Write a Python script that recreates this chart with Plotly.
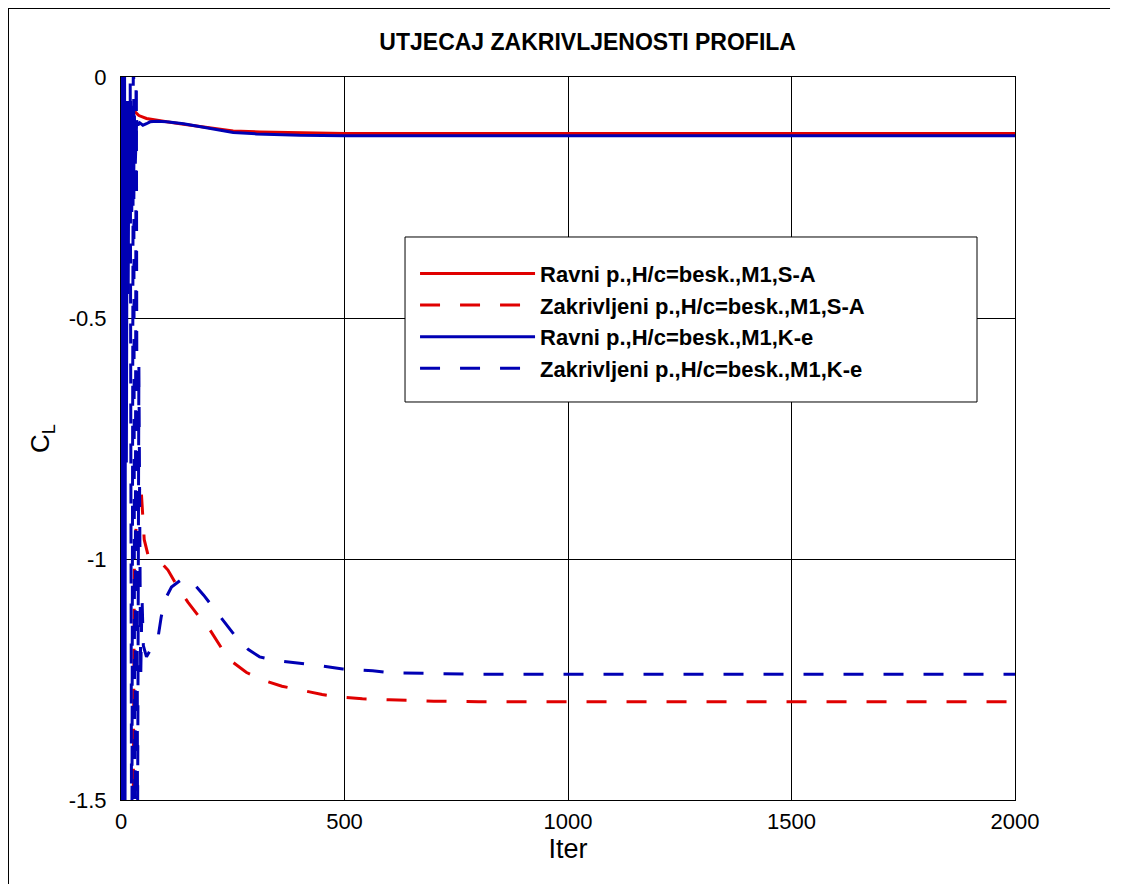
import plotly.graph_objects as go

# iteration / lift coefficient samples
x_ravni_sa = [0, 1, 2, 3, 4, 6, 8, 10, 14, 20, 25, 31, 40, 57, 80, 102,
              140, 176, 251, 311, 400, 500, 1000, 1500, 2000]
cl_ravni_sa = [0.3, -0.35, -0.05, -0.32, -0.06, -0.25, -0.06, -0.2, -0.07, -0.1,
               -0.065, -0.072, -0.08, -0.086, -0.09, -0.093,
               -0.098, -0.103, -0.112, -0.114, -0.116, -0.117, -0.117, -0.117, -0.117]

x_zakr_sa = [0, 1, 2, 3, 4, 5, 6, 8, 26, 30, 34, 38, 44, 48, 52, 60,
             76, 90, 105, 125, 150, 175, 199, 225, 250, 280, 317, 360, 400, 450, 485,
             540, 600, 700, 800, 1000, 1500, 2000]
cl_zakr_sa = [0.3, -1.8, 0.3, -1.8, 0.2, -1.8, 0.1, -1.8, -1.8, -1.0, -0.93, -0.88,
              -0.84, -0.9, -0.96, -0.99,
              -0.996, -1.008, -1.023, -1.055, -1.09, -1.12, -1.147, -1.185, -1.214,
              -1.235, -1.251, -1.264, -1.272, -1.281, -1.286,
              -1.29, -1.292, -1.295, -1.296, -1.296, -1.296, -1.296]

x_ravni_ke = [0, 1, 2, 3, 4, 5, 6, 7, 8, 9, 10, 12, 14, 16, 18, 20, 22, 24, 26, 28, 30,
              32, 35, 38, 42, 49, 57, 65, 80, 102, 140, 176, 220, 251, 303, 350, 400,
              500, 1000, 1500, 2000]
cl_ravni_ke = [0.5, -1.8, 0.3, -1.8, 0.2, -1.8, 0.1, -1.7, 0.0, -1.6, -0.05, -0.8, -0.05,
               -0.45, -0.05, -0.3, -0.05, -0.28, -0.06, -0.25, -0.08,
               -0.18, -0.09, -0.1, -0.095, -0.1, -0.097, -0.093, -0.092, -0.093, -0.097,
               -0.103, -0.11, -0.115, -0.118, -0.12, -0.121,
               -0.122, -0.122, -0.122, -0.122]

x_zakr_ke = [0, 20, 24, 28, 31, 34, 37, 40, 44, 47, 50, 57, 65, 75, 83,
             90, 98, 113, 139, 165, 185, 206, 230, 259, 285, 310, 350, 400, 450, 496,
             530, 563, 600, 700, 800, 1000, 1500, 2000]
cl_zakr_ke = [0.3, 0.3, -1.8, 0.3, -1.8, 0.2, -1.6, -0.6, -1.25,
              -1.08, -1.18, -1.203, -1.19, -1.17, -1.162,
              -1.12, -1.085, -1.058, -1.04, -1.054, -1.075, -1.1, -1.13, -1.164, -1.188,
              -1.203, -1.211, -1.216, -1.222, -1.228,
              -1.23, -1.232, -1.236, -1.238, -1.239, -1.239, -1.239, -1.239]

RED = "#e00000"
BLUE = "#0000b4"
DASH = "20px,20px"
FONT = "Liberation Sans, Arial, sans-serif"

series = [
    ("Ravni p.,H/c=besk.,M1,S-A", x_ravni_sa, cl_ravni_sa, RED, "solid"),
    ("Zakrivljeni p.,H/c=besk.,M1,S-A", x_zakr_sa, cl_zakr_sa, RED, DASH),
    ("Ravni p.,H/c=besk.,M1,K-e", x_ravni_ke, cl_ravni_ke, BLUE, "solid"),
    ("Zakrivljeni p.,H/c=besk.,M1,K-e", x_zakr_ke, cl_zakr_ke, BLUE, DASH),
]

fig = go.Figure()
for name, xs, ys, color, dash in series:
    fig.add_trace(go.Scatter(x=xs, y=ys, mode="lines", name=name,
                             line=dict(color=color, width=3, dash=dash)))

tick_font = dict(family=FONT, size=22, color="black")
fig.update_layout(
    width=1121, height=884,
    paper_bgcolor="white", plot_bgcolor="white",
    margin=dict(l=113, r=114, t=69, b=92),
    title=dict(text="<b>UTJECAJ ZAKRIVLJENOSTI PROFILA</b>", xref="paper", x=0.522,
               xanchor="center", y=0.9615, yanchor="middle",
               font=dict(family=FONT, size=23, color="black")),
    font=tick_font,
    showlegend=True,
    legend=dict(x=0.3289, y=0.757, xanchor="left", yanchor="top",
                bgcolor="rgba(0,0,0,0)", borderwidth=0,
                itemwidth=115, tracegroupgap=0,
                font=dict(family=FONT, size=22, color="black", weight="bold")),
)
fig.update_xaxes(range=[0, 2000], tickvals=[0, 500, 1000, 1500, 2000],
                 showgrid=True, gridcolor="black", gridwidth=1,
                 showline=True, linecolor="black", linewidth=1, mirror=True,
                 ticks="", zeroline=False, tickfont=tick_font, ticklabelstandoff=2,
                 title=dict(text="Iter", font=dict(size=27, color="black", family=FONT),
                            standoff=3))
fig.update_yaxes(range=[-1.5, 0], tickvals=[0, -0.5, -1, -1.5],
                 ticktext=["0", "-0.5", "-1", "-1.5"],
                 showgrid=True, gridcolor="black", gridwidth=1,
                 showline=True, linecolor="black", linewidth=1, mirror=True,
                 ticks="", zeroline=False, tickfont=tick_font, ticklabelstandoff=9,
                 title=dict(text="C<sub>L</sub>", font=dict(size=26, color="black", family=FONT),
                            standoff=11))

# legend box
fig.add_shape(type="rect", xref="paper", yref="paper", x0=0.3177, x1=0.9575,
              y0=0.5505, y1=0.7787, fillcolor="white", layer="above",
              line=dict(color="black", width=1))

# figure frame (top and left edges as in the reference)
fig.add_shape(type="line", xref="paper", yref="paper", x0=-0.1264, x1=1.1063,
              y0=1.0954, y1=1.0954, line=dict(color="black", width=2))
fig.add_shape(type="line", xref="paper", yref="paper", x0=-0.1264, x1=-0.1264,
              y0=1.0954, y1=-0.13, line=dict(color="black", width=2))

fig.write_html("out.html")
